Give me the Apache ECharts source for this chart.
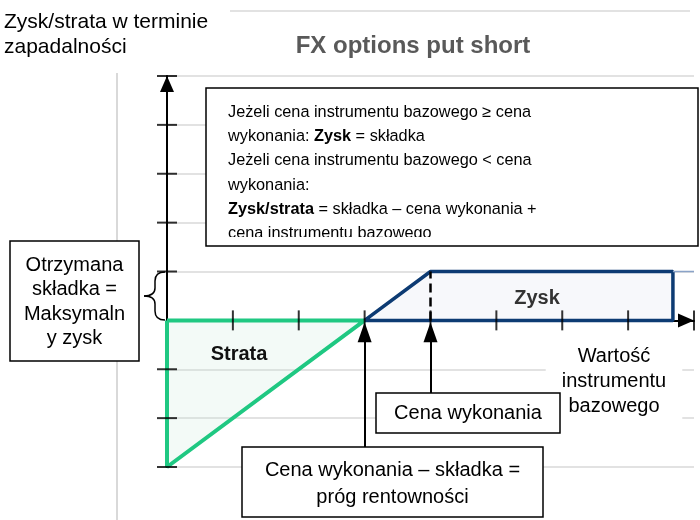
<!DOCTYPE html>
<html>
<head>
<meta charset="utf-8">
<script src="https://cdn.jsdelivr.net/npm/echarts@6/dist/echarts.min.js"></script>
<style>
  html, body { margin: 0; padding: 0; background: #fff; }
  #chart { width: 700px; height: 520px; }
</style>
</head>
<body>
<div id="chart"></div>
<script>
// payoff diagram data (x = wartosc instrumentu, y = zysk/strata)
var xTicks = [1, 2, 3, 4, 5, 6, 7, 8];
var yTicks = [-3, -2, -1, 1, 2, 3, 4, 5];
var lossX = [0, 0, 3, 0];
var lossY = [0, -3, 0, 0];
var profitX = [3, 4, 7.68, 7.68, 3];
var profitY = [0, 1, 1, 0, 0];
var premium = 1;
var strike = 4;
var breakEven = 3;

var F = '"Liberation Sans", Arial, sans-serif';

function pairs(xs, ys) {
	return xs.map(function(x, i) { return [x, ys[i]]; });
}

var chart = echarts.init(document.getElementById('chart'));

// curly brace next to the premium
var braceStyle = { stroke: '#000', lineWidth: 1.5, fill: null };
var brace = [
	{ x1: 165, y1: 272, x2: 155, y2: 281, cpx1: 155, cpy1: 272 },
	{ x1: 155, y1: 288, x2: 144, y2: 296, cpx1: 155, cpy1: 296 },
	{ x1: 144, y1: 296, x2: 155, y2: 304, cpx1: 155, cpy1: 296 },
	{ x1: 155, y1: 311, x2: 165, y2: 320, cpx1: 155, cpy1: 320 }
].map(function(s) {
	return { type: 'bezierCurve', shape: s, style: braceStyle, z: 10 };
}).concat([
	{ type: 'line', shape: { x1: 155, y1: 281, x2: 155, y2: 288 }, style: braceStyle, z: 10 },
	{ type: 'line', shape: { x1: 155, y1: 304, x2: 155, y2: 311 }, style: braceStyle, z: 10 }
]);

var option = {
	animation: false,
	grid: {
		left: 167,
		right: 6,
		top: 76,
		bottom: 53
	},
	xAxis: {
		type: 'value',
		min: 0,
		max: 8,
		interval: 1,
		axisLine: {
			onZero: true,
			symbol: ['none', 'triangle'],
			symbolSize: [14, 16],
			symbolOffset: [0, -8],
			lineStyle: { color: '#000', width: 2 }
		},
		axisTick: { show: false },
		axisLabel: { show: false },
		splitLine: { show: false }
	},
	yAxis: {
		type: 'value',
		min: -3,
		max: 5,
		interval: 1,
		axisLine: {
			show: true,
			onZero: true,
			symbol: ['none', 'triangle'],
			symbolSize: [14, 16],
			symbolOffset: [0, -8],
			lineStyle: { color: '#000', width: 2 }
		},
		axisTick: { show: false },
		axisLabel: { show: false },
		splitLine: {
			lineStyle: { color: '#d9d9d9', width: 1.5 }
		}
	},
	series: [{
		// strata
		type: 'line',
		data: pairs(lossX, lossY),
		symbol: 'none',
		lineStyle: { color: '#1fc882', width: 4 },
		areaStyle: { color: 'rgba(200, 232, 218, 0.3)', origin: 0 },
		z: 3
	}, {
		// zysk
		type: 'line',
		data: pairs(profitX, profitY),
		symbol: 'none',
		lineStyle: { color: '#0d3b73', width: 3.5 },
		areaStyle: { color: 'rgba(215, 222, 236, 0.3)', origin: 0 },
		z: 3
	}, {
		type: 'line',
		data: [[profitX[2], premium], [8, premium]],
		symbol: 'none',
		lineStyle: { color: '#8aa3c8', width: 1.5 },
		z: 3
	}, {
		// linia ceny wykonania
		type: 'line',
		data: [[strike, 0], [strike, premium]],
		symbol: 'none',
		lineStyle: { color: '#000', width: 2.5, type: [9, 5] },
		z: 4,
		markLine: {
			silent: true,
			symbol: ['none', 'triangle'],
			symbolSize: [14, 20],
			label: { show: false },
			lineStyle: { color: '#000', width: 2, type: 'solid' },
			data: [
				[{ coord: [breakEven, -2.6] }, { coord: [breakEven, -0.245] }],
				[{ coord: [strike, -1.494] }, { coord: [strike, -0.245] }]
			]
		}
	}, {
		type: 'scatter',
		data: xTicks.map(function(v) { return [v, 0]; }),
		symbol: 'rect',
		symbolSize: [2, 20],
		itemStyle: { color: '#000' },
		silent: true,
		z: 6
	}, {
		type: 'scatter',
		data: yTicks.map(function(v) { return [0, v]; }),
		symbol: 'rect',
		symbolSize: [20, 2],
		itemStyle: { color: '#000' },
		silent: true,
		z: 6
	}],
	graphic: [{
		type: 'line',
		shape: { x1: 117, y1: 73, x2: 117, y2: 520 },
		style: { stroke: '#d9d9d9', lineWidth: 2 },
		z: 1
	}, {
		type: 'line',
		shape: { x1: 230, y1: 11, x2: 690, y2: 11 },
		style: { stroke: '#d9d9d9', lineWidth: 1.5 },
		z: 1
	}, {
		type: 'text',
		x: 4, y: 10,
		style: {
			text: 'Zysk/strata w terminie\nzapadalności',
			fontSize: 21, lineHeight: 25, fontFamily: F, fill: '#000'
		},
		z: 10
	}, {
		type: 'text',
		x: 413, y: 46,
		style: {
			text: 'FX options put short',
			fontSize: 24, fontWeight: 'bold', fontFamily: F, fill: '#595959',
			textAlign: 'center', textVerticalAlign: 'middle'
		},
		z: 10
	}, {
		type: 'rect',
		shape: { x: 206, y: 88, width: 492, height: 158 },
		style: { fill: '#fff', stroke: null },
		z: 10
	}, {
		type: 'text',
		x: 228, y: 100,
		style: {
			text: 'Jeżeli cena instrumentu bazowego ≥ cena\n' +
				'wykonania: {b|Zysk} = składka\n' +
				'Jeżeli cena instrumentu bazowego < cena\n' +
				'wykonania:\n' +
				'{b|Zysk/strata} = składka – cena wykonania +\n' +
				'cena instrumentu bazowego',
			fontSize: 16.3, lineHeight: 24.3, fontFamily: F, fill: '#000',
			rich: {
				b: { fontSize: 16.3, lineHeight: 24.3, fontFamily: F, fontWeight: 'bold', fill: '#000' }
			}
		},
		z: 11
	}, {
		type: 'rect',
		shape: { x: 207, y: 237, width: 490, height: 8 },
		style: { fill: '#fff' },
		z: 12
	}, {
		type: 'rect',
		shape: { x: 206, y: 88, width: 492, height: 158 },
		style: { fill: 'none', stroke: '#000', lineWidth: 1.5 },
		z: 13
	}, {
		type: 'rect',
		shape: { x: 10, y: 241, width: 129, height: 120 },
		style: { fill: '#fff', stroke: '#000', lineWidth: 1.5 },
		z: 10
	}, {
		type: 'text',
		x: 74.5, y: 302,
		style: {
			text: 'Otrzymana\nskładka =\nMaksymaln\ny zysk',
			fontSize: 20, lineHeight: 24.5, fontFamily: F, fill: '#000',
			textAlign: 'center', textVerticalAlign: 'middle'
		},
		z: 11
	}, {
		type: 'rect',
		shape: { x: 376, y: 393, width: 184, height: 40 },
		style: { fill: '#fff', stroke: '#000', lineWidth: 1.5 },
		z: 10
	}, {
		type: 'text',
		x: 468, y: 413,
		style: {
			text: 'Cena wykonania',
			fontSize: 20, fontFamily: F, fill: '#000',
			textAlign: 'center', textVerticalAlign: 'middle'
		},
		z: 11
	}, {
		type: 'rect',
		shape: { x: 242, y: 447, width: 301, height: 70 },
		style: { fill: '#fff', stroke: '#000', lineWidth: 1.5 },
		z: 10
	}, {
		type: 'text',
		x: 392.5, y: 483.5,
		style: {
			text: 'Cena wykonania – składka =\npróg rentowności',
			fontSize: 20, lineHeight: 27, fontFamily: F, fill: '#000',
			textAlign: 'center', textVerticalAlign: 'middle'
		},
		z: 11
	}, {
		type: 'text',
		x: 614, y: 381,
		style: {
			text: 'Wartość\ninstrumentu\nbazowego',
			fontSize: 20, lineHeight: 25, fontFamily: F, fill: '#000',
			textAlign: 'center', textVerticalAlign: 'middle',
			backgroundColor: '#fff', padding: [3, 16]
		},
		z: 9
	}, {
		type: 'text',
		x: 239, y: 354,
		style: {
			text: 'Strata',
			fontSize: 20, fontWeight: 'bold', fontFamily: F, fill: '#111',
			textAlign: 'center', textVerticalAlign: 'middle'
		},
		z: 9
	}, {
		type: 'text',
		x: 537, y: 298,
		style: {
			text: 'Zysk',
			fontSize: 20, fontWeight: 'bold', fontFamily: F, fill: '#333',
			textAlign: 'center', textVerticalAlign: 'middle'
		},
		z: 9
	}].concat(brace)
};
chart.setOption(option);
</script>
</body>
</html>
